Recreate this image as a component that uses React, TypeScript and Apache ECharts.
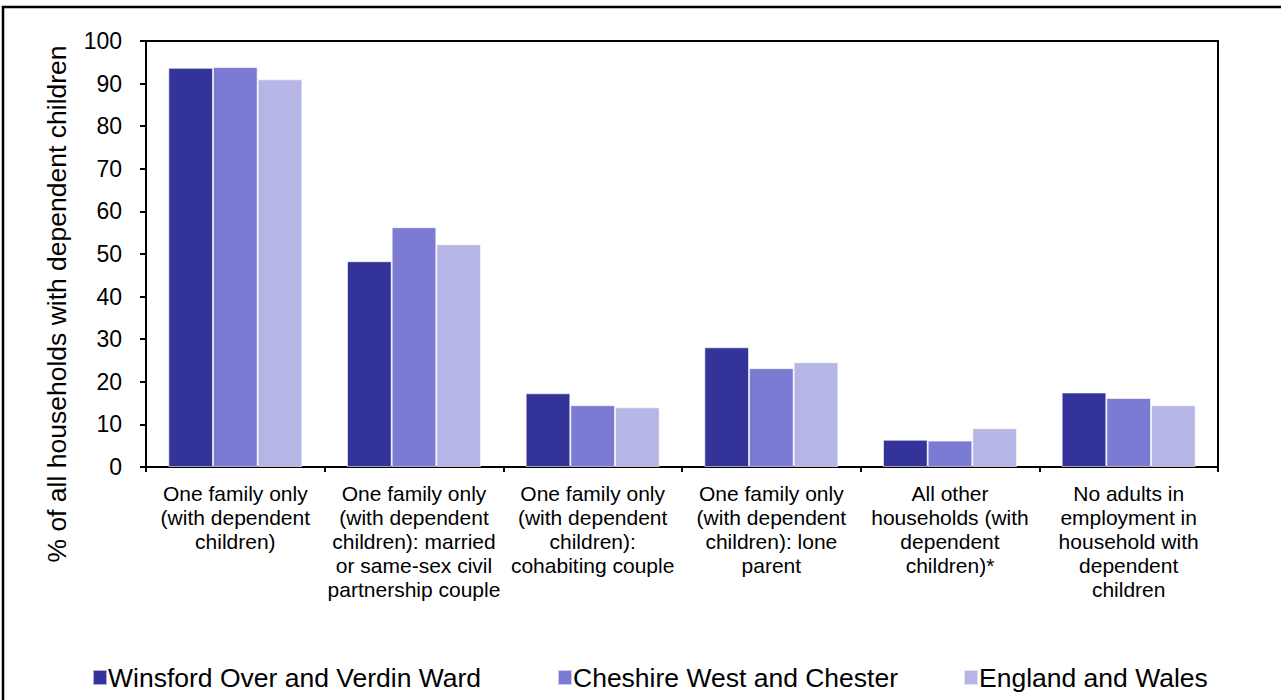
import React, { useEffect, useRef } from "react";
import * as echarts from "echarts";

const categories = [
  "One family only\n(with dependent\nchildren)",
  "One family only\n(with dependent\nchildren): married\nor same-sex civil\npartnership couple",
  "One family only\n(with dependent\nchildren):\ncohabiting couple",
  "One family only\n(with dependent\nchildren): lone\nparent",
  "All other\nhouseholds (with\ndependent\nchildren)*",
  "No adults in\nemployment in\nhousehold with\ndependent\nchildren",
];
const seriesNames = ["Winsford Over and Verdin Ward", "Cheshire West and Chester", "England and Wales"];
const winsford = [93.7, 48.3, 17.3, 28.1, 6.4, 17.5];
const cheshire = [93.9, 56.3, 14.5, 23.2, 6.2, 16.2];
const england = [91.0, 52.3, 14.0, 24.6, 9.1, 14.5];
const colors = ["#343399", "#7b7bd3", "#b6b6e6"];
const legendLefts = [92, 557, 963];
const yAxisTitle = "% of all households with dependent children";

export default function App() {
  const ref = useRef<HTMLDivElement>(null);
  useEffect(() => {
    document.body.style.margin = "0";
    const chart = echarts.init(ref.current!, null, { renderer: "svg" });
    const values = [winsford, cheshire, england];
    const font = "Liberation Sans, Arial, sans-serif";
    chart.setOption({
      animation: false,
      textStyle: { fontFamily: font },
      graphic: [
        {
          type: "rect",
          shape: { x: 3, y: 7, width: 1300, height: 720 },
          style: { fill: "none", stroke: "#000", lineWidth: 2.5 },
          silent: true,
        },
        {
          type: "text",
          x: 57,
          y: 304,
          rotation: Math.PI / 2,
          style: {
            text: yAxisTitle,
            fontSize: 26.5,
            fontFamily: font,
            fill: "#000",
            align: "center",
            verticalAlign: "middle",
          },
          silent: true,
        },
      ],
      grid: {
        left: 146,
        right: 63,
        top: 41,
        bottom: 233,
        show: true,
        borderColor: "#000",
        borderWidth: 2,
        outerBoundsMode: "none",
      },
      legend: seriesNames.map((n, i) => ({
        top: 664,
        left: legendLefts[i],
        padding: 0,
        itemWidth: 14,
        itemHeight: 15,
        icon: "rect",
        textStyle: { fontSize: 26.5, color: "#000", fontFamily: font, padding: [0, 0, 0, -4] },
        data: [n],
      })),
      xAxis: {
        type: "category",
        data: categories,
        axisLine: { lineStyle: { color: "#000", width: 2 } },
        axisTick: { show: true, length: 5, lineStyle: { color: "#000", width: 2 } },
        axisLabel: {
          interval: 0,
          fontSize: 21,
          lineHeight: 24,
          color: "#000",
          margin: 14,
          align: "center",
          verticalAlign: "top",
        },
      },
      yAxis: {
        type: "value",
        min: 0,
        max: 100,
        interval: 10,
        axisLine: { show: true, lineStyle: { color: "#000", width: 2 } },
        axisTick: { show: true, length: 6, lineStyle: { color: "#000", width: 2 } },
        axisLabel: { fontSize: 23, color: "#000", margin: 24 },
        splitLine: { show: false },
      },
      series: values.map((v, i) => ({
        name: seriesNames[i],
        type: "bar",
        data: v,
        barGap: "0%",
        barCategoryGap: "25%",
        itemStyle: { color: colors[i], borderColor: "rgba(255,255,255,0.6)", borderWidth: 1 },
      })),
    });
    return () => chart.dispose();
  }, []);
  return <div ref={ref} style={{ width: 1281, height: 700 }} />;
}
